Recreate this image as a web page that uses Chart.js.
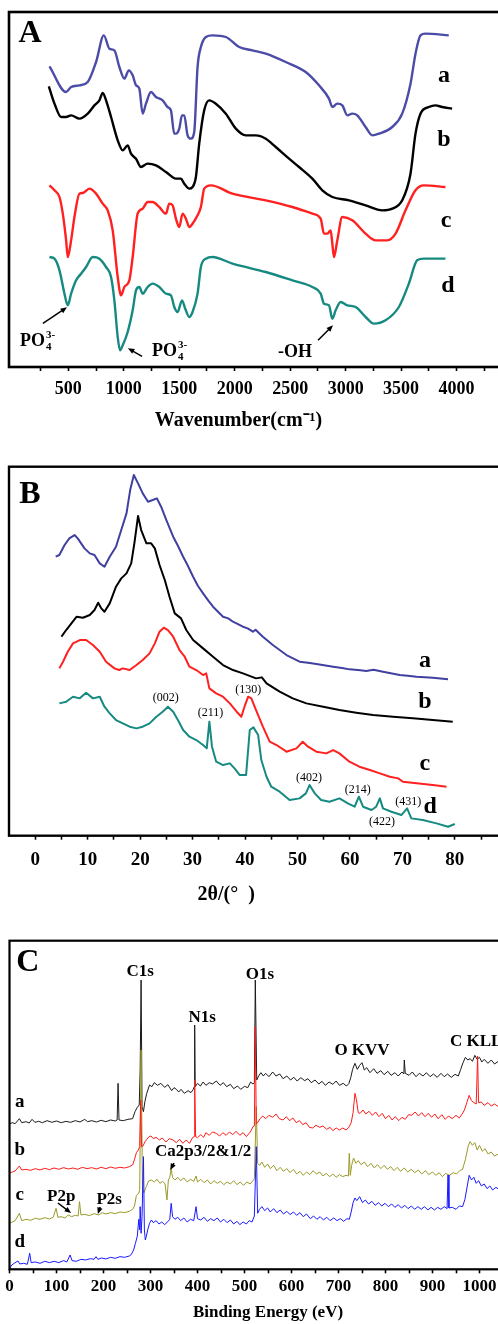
<!DOCTYPE html>
<html><head><meta charset="utf-8">
<script src="https://cdn.jsdelivr.net/npm/chart.js@4"></script>
<style>
html,body{margin:0;padding:0;background:#fff;width:498px;height:1324px;overflow:hidden;position:relative}
canvas{position:absolute;left:0}
</style></head><body>
<canvas id="cA" width="540" height="440" style="top:0px"></canvas>
<canvas id="cB" width="540" height="470" style="top:440px"></canvas>
<canvas id="cC" width="540" height="414" style="top:910px"></canvas>
<script>
// ---------- Panel A : FTIR (wavenumber, offset transmittance a.u.) ----------
const ftirSeriesNames = ['a','b','c','d'];
const ftirTickLabels = [500,1000,1500,2000,2500,3000,3500,4000];
const ftirTickMarks = [250,500,750,1000,1250,1500,1750,2000,2250,2500,2750,3000,3250,3500,3750,4000,4250];
const ftirA = [[330,902],[480,825],[525,840],[600,845],[675,855],[750,915],[820,995],[870,955],[915,950],[960,900],[1005,865],[1045,890],[1080,875],[1110,845],[1140,835],[1170,760],[1200,790],[1245,825],[1290,810],[1350,800],[1395,780],[1425,770],[1455,700],[1470,700],[1500,715],[1525,755],[1545,755],[1575,695],[1605,685],[1635,705],[1665,900],[1695,960],[1740,990],[1800,995],[1920,990],[2040,960],[2160,950],[2280,940],[2460,915],[2640,885],[2760,845],[2850,805],[2880,780],[2925,790],[2970,785],[3015,755],[3060,760],[3105,755],[3180,720],[3240,695],[3300,700],[3420,720],[3510,760],[3585,850],[3630,940],[3675,995],[3720,1000],[3930,995]];
const ftirB = [[324,842],[375,790],[435,750],[480,750],[525,755],[600,745],[675,760],[735,785],[780,800],[810,822],[840,800],[885,750],[945,680],[990,650],[1035,665],[1065,640],[1110,625],[1155,600],[1215,610],[1290,605],[1380,585],[1470,565],[1515,565],[1545,550],[1590,535],[1620,540],[1650,570],[1680,670],[1725,770],[1770,800],[1830,790],[1920,760],[2010,715],[2100,695],[2190,695],[2280,685],[2370,660],[2490,625],[2580,600],[2700,565],[2790,530],[2880,510],[3030,500],[3180,485],[3330,470],[3420,475],[3510,500],[3585,580],[3630,700],[3675,760],[3750,780],[3810,785],[3870,780],[3960,775]];
const ftirC = [[330,545],[375,530],[420,510],[450,460],[480,380],[495,330],[525,380],[555,450],[600,520],[630,522],[690,535],[750,520],[810,490],[855,470],[900,410],[945,270],[975,215],[1005,240],[1050,260],[1080,330],[1125,460],[1170,475],[1215,495],[1260,495],[1320,480],[1380,460],[1410,490],[1440,485],[1470,445],[1500,420],[1530,460],[1560,445],[1590,420],[1620,430],[1665,455],[1695,480],[1725,535],[1785,545],[1980,520],[2280,500],[2520,480],[2700,460],[2775,445],[2805,400],[2835,400],[2865,410],[2880,370],[2895,330],[2925,380],[2970,450],[3060,440],[3180,400],[3270,380],[3375,380],[3450,400],[3540,470],[3630,530],[3705,545],[3900,540]];
const ftirD = [[330,330],[375,325],[420,290],[465,220],[495,185],[525,220],[570,260],[615,280],[660,300],[720,330],[780,325],[840,300],[885,270],[915,200],[945,90],[966,50],[990,65],[1035,105],[1080,170],[1110,230],[1140,240],[1170,220],[1215,240],[1260,250],[1320,240],[1380,220],[1425,215],[1455,180],[1485,165],[1525,200],[1554,175],[1590,150],[1620,165],[1665,220],[1695,300],[1740,325],[1800,330],[1980,310],[2280,285],[2520,260],[2700,240],[2775,220],[2805,190],[2850,185],[2880,145],[2910,170],[2955,195],[3015,185],[3090,180],[3180,150],[3255,130],[3360,140],[3480,180],[3570,250],[3645,320],[3705,325],[3900,325]];

// ---------- Panel B : XRD (2theta, offset intensity a.u.) ----------
const xrdTickLabels = [0,10,20,30,40,50,60,70,80];
const xrdTickMarks = [0,5,10,15,20,25,30,35,40,45,50,55,60,65,70,75,80,85];
const xrdA = [[3.9,837],[4.6,842],[5.6,872],[6.5,892],[7.5,902],[8.1,892],[9.4,862],[10.4,847],[11.3,842],[12.3,817],[13.2,807],[14.2,837],[15.4,867],[16.4,917],[17.4,967],[18.1,1037],[18.8,1082],[19.6,1057],[20.5,1027],[21.5,1002],[22.4,1007],[23.2,1012],[24.0,987],[25.0,947],[26.3,897],[27.2,870],[28.2,837],[29.1,810],[30.1,777],[31.0,750],[32.0,727],[33.0,705],[33.9,687],[35.8,657],[36.8,652],[37.7,642],[39.6,627],[40.5,622],[41.5,612],[42.0,618],[43.4,597],[45.3,572],[47.9,542],[50.4,522],[52.0,519],[53.6,515],[56.8,507],[58.5,503],[59.9,499],[62.0,496],[63.1,494],[64.5,498],[66.3,492],[69.5,482],[71.0,480],[72.7,477],[75.8,474],[78.7,469]];
const xrdB = [[5.0,597],[5.9,617],[6.9,637],[7.9,657],[9.1,654],[10.4,662],[11.3,677],[12.0,699],[12.6,682],[13.2,672],[14.2,697],[15.4,747],[16.4,772],[17.4,787],[18.3,817],[18.9,877],[19.6,959],[20.2,917],[21.2,877],[22.1,877],[22.8,862],[23.7,812],[24.7,767],[25.6,717],[26.6,667],[27.8,652],[28.8,617],[30.1,587],[32.0,562],[33.9,537],[35.8,512],[37.7,497],[39.6,487],[42.1,472],[43.2,475],[44.1,457],[46.6,432],[49.1,412],[51.7,397],[54.9,387],[58.0,377],[61.2,369],[64.4,362],[68.2,357],[72.0,352],[75.8,347],[79.6,342]];
const xrdC = [[4.6,502],[5.3,522],[6.2,552],[7.2,577],[8.5,587],[9.7,587],[11.0,572],[12.3,552],[13.5,522],[15.1,502],[16.0,497],[16.7,502],[18.0,497],[19.3,512],[20.5,527],[21.8,547],[22.8,577],[23.7,612],[24.5,624],[25.3,617],[26.3,597],[27.5,557],[28.5,537],[29.4,507],[30.7,497],[32.0,482],[32.6,487],[33.2,442],[34.5,427],[35.8,417],[37.1,397],[38.4,372],[39.3,357],[39.9,387],[40.6,417],[41.2,412],[42.1,377],[43.4,327],[44.7,282],[46.0,272],[47.9,252],[49.8,262],[51.0,282],[52.0,267],[53.6,252],[55.5,247],[56.8,257],[58.0,247],[59.9,222],[61.8,207],[63.8,197],[65.7,187],[67.6,177],[69.2,172],[70.1,162],[72.7,157],[75.8,152],[78.4,147]];
const xrdD = [[4.6,397],[5.9,402],[7.2,417],[8.5,412],[9.7,429],[11.0,412],[12.3,417],[13.2,387],[14.2,367],[15.4,347],[16.7,337],[18.0,327],[19.3,322],[20.5,327],[21.8,337],[23.1,357],[24.3,372],[25.3,387],[26.3,372],[27.2,347],[28.2,317],[29.4,297],[30.7,287],[32.0,272],[32.7,262],[33.2,342],[33.7,267],[34.5,222],[35.8,212],[37.1,217],[38.0,202],[39.0,182],[40.2,182],[40.9,317],[41.6,325],[42.5,302],[43.1,227],[44.1,177],[45.0,147],[46.6,132],[48.5,107],[50.4,112],[51.6,127],[52.3,152],[53.3,127],[54.5,107],[56.1,102],[58.0,112],[59.6,97],[60.9,87],[61.7,117],[62.5,87],[64.1,77],[65.0,87],[65.7,112],[66.3,82],[67.9,72],[69.8,62],[70.9,82],[71.7,52],[73.9,47],[76.5,37],[78.7,27],[80.0,35]];

// ---------- Panel C : XPS survey (binding energy eV, offset counts a.u.) ----------
const xpsTickLabels = [0,100,200,300,400,500,600,700,800,900,1000];
const xpsTickMarks = [0,50,100,150,200,250,300,350,400,450,500,550,600,650,700,750,800,850,900,950,1000,1050];
const xpsA = [[0,436],[6,440],[12,437],[21,452],[26,440],[35,443],[42,439],[48,450],[54,441],[62,444],[70,440],[80,446],[90,441],[100,445],[110,440],[120,444],[130,441],[140,446],[150,442],[160,450],[166,443],[175,446],[185,442],[195,447],[205,443],[215,448],[225,445],[229,448],[231,558],[233,448],[242,446],[252,450],[262,452],[267,473],[272,486],[276,493],[278,598],[280,868],[282,488],[285,473],[288,503],[292,528],[298,553],[303,548],[308,560],[315,552],[322,558],[330,546],[337,554],[345,536],[350,545],[355,540],[360,532],[365,540],[372,528],[380,536],[386,530],[391,540],[393,548],[394,733],[395,548],[400,558],[406,550],[412,562],[418,552],[425,560],[432,556],[440,565],[448,552],[455,560],[462,548],[470,555],[477,542],[485,550],[492,540],[500,549],[507,545],[513,562],[518,556],[521,560],[523,868],[526,568],[530,580],[535,590],[540,580],[545,588],[552,578],[560,592],[567,580],[575,586],[582,572],[590,580],[598,568],[605,576],[612,565],[620,575],[628,566],[635,572],[642,560],[650,568],[658,556],[665,564],[672,552],[680,562],[688,555],[695,565],[702,552],[710,558],[717,550],[722,557],[726,575],[730,600],[735,618],[740,600],[745,612],[750,620],[755,598],[760,605],[767,590],[775,602],[782,588],[790,596],[797,584],[805,594],[812,582],[820,590],[827,580],[835,592],[839,586],[840,628],[842,588],[850,582],[857,592],[865,578],[872,588],[880,580],[887,590],[895,578],[902,586],[910,576],[918,588],[925,578],[932,586],[940,576],[948,585],[955,580],[960,600],[965,620],[970,636],[975,628],[980,632],[985,624],[990,642],[995,630],[1000,636],[1005,622],[1010,630],[1018,618],[1025,628],[1032,616],[1040,624],[1050,614],[1060,620]];
const xpsB = [[0,288],[6,292],[12,295],[21,310],[26,298],[35,300],[45,297],[55,302],[65,298],[75,303],[85,299],[95,304],[105,300],[115,305],[125,301],[135,304],[145,300],[155,306],[165,302],[175,305],[185,301],[195,306],[205,302],[215,307],[225,303],[235,306],[245,304],[255,308],[262,313],[266,330],[270,350],[274,358],[277,368],[279,508],[281,368],[284,370],[288,382],[292,390],[297,398],[301,400],[306,392],[312,396],[319,388],[325,394],[333,382],[340,392],[348,388],[355,380],[362,390],[369,378],[376,388],[383,378],[390,396],[393,398],[394,568],[396,398],[400,395],[407,404],[413,396],[418,410],[425,402],[432,412],[440,408],[447,400],[454,410],[461,402],[468,412],[475,404],[482,414],[490,402],[497,410],[504,398],[510,408],[514,416],[518,428],[521,430],[523,728],[525,436],[528,440],[533,452],[539,460],[545,452],[552,462],[560,456],[567,466],[574,452],[582,448],[589,458],[596,446],[603,454],[610,440],[617,446],[624,434],[631,440],[638,426],[645,424],[652,432],[660,426],[667,430],[675,420],[682,426],[688,416],[695,424],[702,418],[709,424],[716,418],[722,426],[727,440],[731,470],[735,528],[738,510],[742,470],[746,468],[752,478],[758,466],[765,474],[772,462],[779,472],[786,458],[793,468],[800,452],[807,462],[814,448],[821,458],[828,446],[835,456],[842,450],[849,464],[856,462],[863,472],[870,460],[877,470],[884,458],[891,468],[898,456],[905,466],[912,452],[920,464],[927,450],[934,460],[942,452],[950,462],[957,454],[963,466],[968,478],[973,500],[978,522],[983,506],[988,500],[993,496],[996,640],[998,500],[1004,502],[1010,492],[1018,500],[1025,490],[1032,496],[1040,488],[1050,492],[1060,486]];
const xpsC = [[0,138],[6,142],[12,146],[21,168],[26,146],[35,150],[45,147],[55,153],[65,150],[75,155],[85,151],[93,156],[99,183],[103,156],[110,158],[118,154],[125,163],[132,158],[140,162],[146,160],[149,203],[152,163],[160,165],[170,161],[180,167],[190,163],[197,170],[205,166],[215,170],[225,167],[235,172],[245,170],[255,174],[262,180],[266,190],[270,222],[275,228],[277,240],[280,658],[283,240],[286,230],[291,248],[296,265],[302,268],[308,262],[314,270],[320,258],[326,264],[331,256],[335,208],[338,268],[341,276],[344,303],[347,275],[352,268],[358,276],[364,266],[371,274],[378,262],[385,270],[392,264],[397,280],[400,262],[407,270],[414,260],[421,268],[428,256],[435,266],[442,258],[449,264],[456,254],[463,262],[470,256],[477,266],[484,254],[491,262],[498,252],[505,262],[512,256],[518,266],[521,272],[525,488],[528,318],[532,312],[537,322],[543,306],[549,316],[555,302],[562,312],[569,296],[576,306],[583,294],[590,302],[597,290],[604,300],[611,286],[618,294],[625,282],[632,292],[639,284],[646,296],[653,286],[660,292],[667,280],[674,288],[681,278],[688,286],[695,276],[702,284],[709,278],[716,282],[721,280],[723,348],[725,282],[728,312],[732,334],[737,318],[742,326],[748,314],[755,322],[762,308],[769,318],[776,304],[783,314],[790,302],[797,312],[804,300],[811,308],[818,296],[825,306],[832,294],[840,304],[847,292],[855,300],[862,290],[870,298],[877,286],[885,296],[892,284],[900,292],[907,282],[914,290],[921,278],[928,288],[936,282],[944,290],[951,286],[958,296],[964,300],[970,330],[976,370],[980,383],[985,372],[990,380],[995,358],[1000,372],[1006,354],[1012,362],[1018,346],[1025,352],[1032,340],[1040,346],[1050,338],[1060,342]];
const xpsD = [[0,3],[5,13],[10,18],[18,25],[22,16],[30,18],[38,15],[43,48],[46,20],[55,22],[65,18],[75,24],[85,20],[95,24],[105,20],[115,26],[122,22],[129,43],[133,26],[142,24],[152,30],[162,28],[172,32],[180,30],[184,38],[188,30],[196,34],[205,31],[215,36],[225,33],[235,38],[245,36],[255,40],[259,44],[264,58],[268,78],[272,100],[275,150],[277,118],[278,188],[280,108],[282,158],[285,338],[287,118],[289,88],[291,98],[294,118],[298,138],[302,148],[306,140],[312,146],[318,136],[324,142],[330,134],[337,143],[341,150],[344,198],[347,158],[352,150],[358,156],[364,146],[371,154],[378,142],[385,150],[392,146],[397,188],[400,152],[407,148],[414,156],[421,144],[428,152],[435,146],[442,154],[449,142],[456,150],[463,140],[470,148],[477,136],[484,144],[490,134],[497,142],[504,136],[510,146],[516,142],[521,160],[525,368],[528,168],[532,180],[537,188],[543,176],[549,184],[555,172],[562,182],[569,170],[576,178],[583,166],[590,174],[597,164],[604,172],[611,162],[618,170],[625,158],[632,166],[640,152],[647,160],[654,150],[661,158],[668,148],[675,156],[682,146],[690,154],[697,146],[704,152],[711,144],[718,152],[723,150],[727,172],[731,200],[735,214],[739,206],[745,218],[751,200],[757,208],[764,196],[771,204],[778,192],[785,200],[792,190],[799,198],[806,188],[813,196],[820,186],[827,194],[834,184],[841,192],[848,182],[855,190],[862,180],[869,188],[876,180],[883,188],[890,178],[897,186],[904,178],[911,186],[918,180],[925,188],[931,182],[933,283],[935,184],[942,186],[950,180],[957,190],[964,188],[969,210],[974,250],[978,282],[983,268],[988,276],[993,258],[998,266],[1004,250],[1010,256],[1016,242],[1022,250],[1028,238],[1035,246],[1045,236],[1055,240],[1060,238]];

// ---------- annotations (in data coordinates) ----------
const ftirNotes = [
  {x:154,y:1001,text:'A',size:32},
  {x:3887,y:875,text:'a',size:24},{x:3887,y:683,text:'b',size:24},
  {x:3905,y:440,text:'c',size:24},{x:3923,y:245,text:'d',size:24}
];
const ftirRich = [{x:64,y:62,main:'PO',sub:'4',sup:'3-'},{x:1254,y:32,main:'PO',sub:'4',sup:'3-'},{x:2390,y:29,main:'-OH'}];
const ftirArrows = [[271,131,488,179],[1165,32,1037,56],[2751,80,2886,125]];
const xrdNotes = [
  {x:-1.0,y:1022,text:'B',size:32},
  {x:74.3,y:524,text:'a',size:24},{x:74.3,y:401,text:'b',size:24},
  {x:74.3,y:215,text:'c',size:24},{x:75.3,y:86,text:'d',size:24},
  {x:24.9,y:413,text:'(002)',size:12,w:'normal'},{x:33.4,y:368,text:'(211)',size:12,w:'normal'},
  {x:40.6,y:437,text:'(130)',size:12,w:'normal'},{x:52.2,y:173,text:'(402)',size:12,w:'normal'},
  {x:61.5,y:137,text:'(214)',size:12,w:'normal'},{x:66.1,y:41,text:'(422)',size:12,w:'normal'},
  {x:71.1,y:101,text:'(431)',size:12,w:'normal'}
];
const xpsNotes = [
  {x:39,y:919,text:'C',size:32},
  {x:22,y:502,text:'a',size:19},{x:22,y:358,text:'b',size:19},
  {x:22,y:223,text:'c',size:19},{x:22,y:82,text:'d',size:19},
  {x:278,y:892,text:'C1s',size:17},{x:410,y:754,text:'N1s',size:17},
  {x:533,y:883,text:'O1s',size:17},{x:750,y:655,text:'O KVV',size:17},
  {x:937,y:682,text:'C KLL',size:17,align:'left'},
  {x:412,y:352,text:'Ca2p3/2&1/2',size:17},
  {x:110,y:217,text:'P2p',size:17},{x:212,y:208,text:'P2s',size:17}
];
const xpsArrows = [[103,199,131,169],[193,187,188,166],[350,319,342,298]];

const FONT = "'Liberation Serif','Times New Roman',serif";
Chart.defaults.font.family = FONT;

const framePlugin = {
  id:'frame',
  afterDatasetsDraw(chart, args, opts){
    const {left,top,right,bottom} = chart.chartArea;
    const ctx = chart.ctx;
    ctx.save(); ctx.strokeStyle='#000'; ctx.lineWidth=opts.lw||2;
    ctx.strokeRect(left,top,right-left,bottom-top); ctx.restore();
  }
};
const notesPlugin = {
  id:'notes',
  afterDraw(chart, args, opts){
    const ctx = chart.ctx, xs = chart.scales.x, ys = chart.scales.y;
    ctx.save(); ctx.fillStyle='#000'; ctx.strokeStyle='#000';
    (opts.texts||[]).forEach(t=>{
      ctx.font = (t.w||'bold')+' '+t.size+'px '+FONT;
      ctx.textAlign = t.align||'center'; ctx.textBaseline='middle';
      ctx.fillText(t.text, xs.getPixelForValue(t.x), ys.getPixelForValue(t.y));
    });
    (opts.rich||[]).forEach(r=>{
      const px = xs.getPixelForValue(r.x), py = ys.getPixelForValue(r.y);
      ctx.textAlign='left'; ctx.textBaseline='alphabetic';
      ctx.font='bold 18px '+FONT; ctx.fillText(r.main, px, py);
      const w = ctx.measureText(r.main).width;
      ctx.font='bold 11px '+FONT;
      if (r.sub) ctx.fillText(r.sub, px+w+1, py+4);
      if (r.sup) ctx.fillText(r.sup, px+w+1, py-8);
    });
    (opts.arrows||[]).forEach(a=>{
      const x1=xs.getPixelForValue(a[0]), y1=ys.getPixelForValue(a[1]);
      const x2=xs.getPixelForValue(a[2]), y2=ys.getPixelForValue(a[3]);
      const ang=Math.atan2(y2-y1,x2-x1), L=7;
      ctx.lineWidth=1.5; ctx.beginPath(); ctx.moveTo(x1,y1);
      ctx.lineTo(x2-Math.cos(ang)*L*0.8, y2-Math.sin(ang)*L*0.8); ctx.stroke();
      ctx.beginPath(); ctx.moveTo(x2,y2);
      ctx.lineTo(x2-L*Math.cos(ang-0.4), y2-L*Math.sin(ang-0.4));
      ctx.lineTo(x2-L*Math.cos(ang+0.4), y2-L*Math.sin(ang+0.4));
      ctx.closePath(); ctx.fill();
    });
    ctx.restore();
  }
};

function ds(data, color, lw, order, extra){
  return Object.assign({data, borderColor:color, borderWidth:lw, pointRadius:0, fill:false,
    tension:0, order, borderJoinStyle:'round'}, extra||{});
}

function makePanel(id, o){
  new Chart(document.getElementById(id), {
    type:'line',
    data:{datasets:o.datasets},
    options:{
      responsive:false, animation:false, devicePixelRatio:1,
      layout:{padding:{left:o.pad[0], right:o.pad[1], top:o.pad[2], bottom:0}},
      plugins:{legend:{display:false}, tooltip:{enabled:false},
        frame:{lw:o.frameW}, notes:{texts:o.texts, rich:o.rich, arrows:o.arrows}},
      scales:{
        x:{type:'linear', min:o.xmin, max:o.xmax,
          afterBuildTicks:s=>{ s.ticks = o.tickMarks.map(v=>({value:v})); },
          afterFit:s=>{ s.height = o.axisH; },
          grid:{drawOnChartArea:false, drawTicks:true, tickLength:4, tickWidth:1.6, tickColor:'#000', color:'#000'},
          border:{display:false},
          ticks:{autoSkip:false, maxRotation:0, minRotation:0, color:'#000',
            padding:o.tickPad, font:{family:FONT, weight:'bold', size:o.tickSize},
            callback:v=> o.tickLabels.includes(v) ? String(v) : ''},
          title:{display:true, text:o.title, color:'#000', font:{family:FONT, weight:'bold', size:o.titleSize},
            padding:{top:0, bottom:o.titlePad}}
        },
        y:{display:false, min:0, max:o.ymax}
      }
    },
    plugins:[framePlugin, notesPlugin]
  });
}

const mono = {cubicInterpolationMode:'monotone'};
makePanel('cA', {
  datasets:[ds(ftirA,'#4b4ba8',2.4,0,mono), ds(ftirB,'#000000',2.4,1,mono), ds(ftirC,'#ff2020',2.4,2,mono), ds(ftirD,'#168a80',2.4,3,mono)],
  pad:[9,28,12], xmin:-35, xmax:4500, ymax:1065, tickMarks:ftirTickMarks,
  tickLabels:ftirTickLabels, axisH:73, tickPad:8, tickSize:18,
  title:'Wavenumber(cm\u207B\u00B9)\u2002\u2002\u2002\u2002\u2009', titleSize:20, titlePad:7, frameW:2.6,
  texts:ftirNotes, rich:ftirRich, arrows:ftirArrows
});
makePanel('cB', {
  datasets:[ds(xrdA,'#4040a0',2,0), ds(xrdB,'#000000',2,1), ds(xrdC,'#ff2020',2,2), ds(xrdD,'#168a80',2,3)],
  pad:[9,32.7,26.7], xmin:-5, xmax:90, ymax:1107, tickMarks:xrdTickMarks,
  tickLabels:xrdTickLabels, axisH:74.3, tickPad:8.9, tickSize:19,
  title:'2\u03B8/(\u00B0  )\u2002\u2002\u2002\u2002\u2002\u2002\u2009', titleSize:20, titlePad:3, frameW:2.4,
  texts:xrdNotes, rich:[], arrows:[]
});
makePanel('cC', {
  datasets:[ds(xpsA,'#1a1a1a',1,3), ds(xpsB,'#ff1a1a',1,1), ds(xpsC,'#9a9a2a',1,2), ds(xpsD,'#1a1aff',1,0)],
  pad:[9.5,13.5,30.7], xmin:0, xmax:1100, ymax:986, tickMarks:xpsTickMarks,
  tickLabels:xpsTickLabels, axisH:54.7, tickPad:3.5, tickSize:17,
  title:'Binding Energy (eV)', titleSize:17, titlePad:0.8, frameW:2.2,
  texts:xpsNotes, rich:[], arrows:xpsArrows
});
</script>
</body></html>
